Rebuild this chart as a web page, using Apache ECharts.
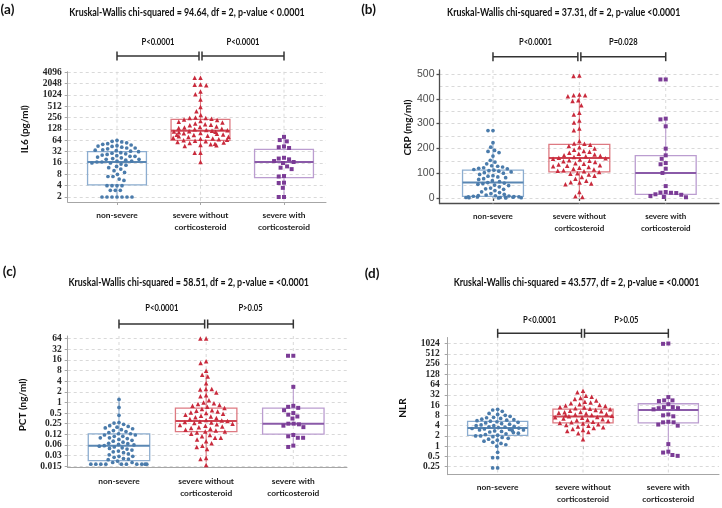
<!DOCTYPE html>
<html><head><meta charset="utf-8">
<script src="https://cdn.jsdelivr.net/npm/echarts@6/dist/echarts.min.js"></script>
<style>html,body{margin:0;padding:0;background:#fff}#c{width:722px;height:508px}</style>
</head><body><div id="c"></div>
<script>
// ---------------- DATA ----------------
const categories = ['non-severe', 'severe without\ncorticosteroid', 'severe with\ncorticosteroid'];

const titleA = 'Kruskal-Wallis chi-squared = 94.64, df = 2, p-value < 0.0001';
const titleB = 'Kruskal-Wallis chi-squared = 37.31, df = 2, p-value <0.0001';
const titleC = 'Kruskal-Wallis chi-squared = 58.51, df = 2, p-value = <0.0001';
const titleD = 'Kruskal-Wallis chi-squared = 43.577, df = 2, p-value = <0.0001';

const pLabelsA = ['P<0.0001', 'P<0.0001'];
const pLabelsB = ['P<0.0001', 'P=0.028'];
const pLabelsC = ['P<0.0001', 'P>0.05'];
const pLabelsD = ['P<0.0001', 'P>0.05'];

const il6Ticks = ['2','4','8','16','32','64','128','256','512','1024','2048','4096'];
const crpTicks = ['0','100','200','300','400','500'];
const pctTicks = ['0.015','0.03','0.06','0.12','0.25','0.5','1','2','4','8','16','32','64'];
const nlrTicks = ['0.25','0.5','1','2','4','8','16','32','64','128','256','512','1024'];

// box stats: [lower whisker, Q1, median, Q3, upper whisker]
const il6Boxes = [[2, 4.2, 17, 32, 64], [17, 64, 115, 231, 1226], [2, 6.5, 17, 37, 79]];
const crpBoxes = [[0, 6.7, 62, 112, 222], [4, 105, 161, 216, 414], [1, 15, 101, 171, 320]];
const pctBoxes = [[0.0178, 0.0226, 0.0595, 0.129, 1.21], [0.0202, 0.15, 0.30, 0.69, 6.1], [0.057, 0.127, 0.25, 0.69, 2.87]];
const nlrBoxes = [[0.7, 2.07, 3.4, 5.3, 11.7], [1.65, 4.85, 7.4, 12.2, 42], [0.52, 4.85, 11.4, 17.5, 28]];

const il6NonSevere = [64, 60, 58, 55, 52, 50, 48, 46, 45, 44, 42, 40, 40, 38, 36, 35, 34, 33, 32, 30, 29, 28, 27, 26, 25, 24, 24, 23, 22, 21, 20, 20, 19, 18, 18, 17, 17, 16, 16, 15, 14, 13, 12, 11, 10, 9, 8, 7, 7, 6, 5.5, 4, 4, 4, 4, 3, 3, 3, 2, 2, 2, 2, 2, 2, 2];
const il6SevereNoCS = [2950, 2950, 1950, 1900, 1850, 1260, 1070, 780, 490, 380, 300, 260, 250, 250, 240, 230, 220, 210, 200, 190, 180, 170, 165, 160, 150, 145, 140, 135, 130, 125, 120, 118, 115, 112, 110, 108, 105, 100, 98, 95, 92, 90, 88, 85, 82, 80, 78, 75, 72, 70, 68, 66, 64, 62, 60, 58, 56, 54, 52, 50, 48, 47, 45, 30, 30, 17];
const il6SevereCS = [79, 65, 60, 44, 42, 40, 22, 21, 20, 18, 17, 16, 13, 12, 11, 7.2, 7, 4.8, 4.7, 3.5, 2, 2];

const crpNonSevere = [272, 272, 223, 205, 192, 188, 183, 169, 152, 145, 138, 130, 128, 125, 122, 120, 118, 115, 112, 110, 108, 105, 102, 100, 95, 90, 88, 85, 82, 78, 75, 70, 66, 62, 60, 58, 55, 52, 50, 45, 40, 37, 35, 30, 25, 22, 18, 15, 12, 10, 9, 8, 7, 6, 5, 5, 4, 3, 3, 2, 2, 1, 1, 0.5, 0];
const crpSevereNoCS = [494, 492, 417, 414, 414, 410, 394, 391, 374, 344, 337, 313, 304, 280, 273, 230, 220, 219, 215, 210, 205, 200, 195, 190, 186, 182, 178, 175, 172, 170, 168, 165, 162, 160, 158, 155, 152, 150, 148, 145, 140, 138, 135, 132, 130, 128, 125, 122, 118, 115, 112, 110, 108, 105, 100, 98, 95, 90, 85, 78, 70, 64, 62, 58, 55, 24, 7, 4];
const crpSevereCS = [478, 478, 320, 317, 289, 199, 172, 158, 141, 136, 118, 101, 48, 24, 22, 21, 20, 15, 13, 8, 4, 3];

const pctNonSevere = [1.21, 0.72, 0.43, 0.27, 0.26, 0.24, 0.22, 0.21, 0.2, 0.19, 0.18, 0.17, 0.16, 0.15, 0.14, 0.13, 0.13, 0.12, 0.12, 0.11, 0.11, 0.1, 0.1, 0.095, 0.09, 0.085, 0.08, 0.075, 0.07, 0.068, 0.065, 0.063, 0.06, 0.058, 0.055, 0.052, 0.05, 0.048, 0.045, 0.042, 0.04, 0.038, 0.035, 0.033, 0.03, 0.03, 0.028, 0.026, 0.025, 0.024, 0.022, 0.02, 0.02, 0.018, 0.018, 0.018, 0.018, 0.018, 0.018, 0.018, 0.018, 0.018, 0.018];
const pctSevereNoCS = [64, 64, 14.5, 13, 7.9, 6, 5.4, 3.5, 2.4, 2.4, 2.3, 1.9, 1.6, 1.5, 1.15, 1.0, 0.95, 0.9, 0.85, 0.8, 0.75, 0.7, 0.65, 0.6, 0.58, 0.55, 0.52, 0.5, 0.48, 0.45, 0.42, 0.4, 0.38, 0.36, 0.34, 0.32, 0.31, 0.3, 0.29, 0.28, 0.27, 0.26, 0.25, 0.24, 0.23, 0.22, 0.21, 0.2, 0.19, 0.18, 0.17, 0.16, 0.15, 0.15, 0.14, 0.13, 0.12, 0.11, 0.1, 0.1, 0.09, 0.08, 0.07, 0.06, 0.055, 0.048, 0.027, 0.025, 0.017];
const pctSevereCS = [20.8, 20.8, 2.75, 0.8, 0.75, 0.7, 0.6, 0.5, 0.45, 0.4, 0.35, 0.25, 0.25, 0.24, 0.22, 0.2, 0.12, 0.11, 0.1, 0.1, 0.06, 0.055];

const nlrNonSevere = [12, 11.5, 10.5, 9.1, 8.5, 8, 7.5, 7, 6.8, 6.5, 6.2, 6, 5.8, 5.6, 5.4, 5.2, 5, 4.8, 4.6, 4.4, 4.2, 4, 4, 3.8, 3.7, 3.6, 3.5, 3.4, 3.3, 3.2, 3.1, 3, 3, 2.9, 2.8, 2.7, 2.6, 2.5, 2.4, 2.3, 2.2, 2.1, 2.0, 2.0, 1.9, 1.8, 1.7, 1.6, 1.5, 1.4, 1.3, 1.2, 1.1, 1.0, 0.66, 0.46, 0.46, 0.23, 0.23];
const nlrSevereNoCS = [42, 38, 30, 28, 26, 24, 22, 20, 19, 18, 17, 16, 15.5, 15, 14, 13.5, 13, 12.5, 12, 11.5, 11, 10.5, 10, 9.8, 9.5, 9, 8.8, 8.5, 8.2, 8, 7.8, 7.5, 7.2, 7, 6.8, 6.5, 6.2, 6, 5.8, 5.5, 5.2, 5, 4.8, 4.6, 4.4, 4.2, 4, 3.8, 3.6, 3.4, 3.2, 3, 2.8, 2.6, 2.4, 1.6];
const nlrSevereCS = [1024, 1000, 27.5, 22, 22, 21, 17, 14, 14, 13, 13, 12, 8.5, 8, 7.5, 5.2, 5, 5, 4.3, 4, 1.15, 0.69, 0.65, 0.55, 0.52];

// ---------------- STYLE / LAYOUT ----------------
const SANS = "'Lato', 'Liberation Sans', sans-serif";
const SERIF = "'Liberation Serif', serif";
const groupStyle = [
  {pt: '#4a7bab', box: '#8cadd0', med: '#5a87b3', symbol: 'circle', size: 3.7},
  {pt: '#c92a3c', box: '#de7a82', med: '#cf4553', symbol: 'triangle', size: 4.5},
  {pt: '#7b3c96', box: '#bb9dd0', med: '#8a5aa8', symbol: 'rect', size: 4}
];
const gridColor = '#d9d9d9';

const panels = [
  {tag: '(a)', title: titleA, yName: 'IL6 (pg/ml)', log: true, ticks: il6Ticks, boxes: il6Boxes,
   groups: [il6NonSevere, il6SevereNoCS, il6SevereCS], pLabels: pLabelsA,
   L: {fl: 67.7, ft: 71.7, fr: 326, fb: 202, lt: 72.3, lb: 197, dl: 75.25, dr: 325.75, ymin: 1, ymax: 12, interval: 1,
       xOffset: 5, catMargin: 7.5, labMargin: 6, nameGap: 38, namePad: [0, 0, 0, 11], brOff: 16.3, pOff: 30.3,
       titleX: 187, titleY: 12, tagX: 7.5, tagY: 10, serif: true, axisColor: '#a6a6a6', axisW: 1, catFont: 8.4}},
  {tag: '(b)', title: titleB, yName: 'CRP (mg/ml)', log: false, ticks: crpTicks, boxes: crpBoxes,
   groups: [crpNonSevere, crpSevereNoCS, crpSevereCS], pLabels: pLabelsB,
   L: {fl: 439.5, ft: 70, fr: 719, fb: 203.5, lt: 74, lb: 198, dl: 449.8, dr: 708.9, ymin: 0, ymax: 500, interval: 100,
       xOffset: 5.5, catMargin: 6.5, labMargin: 5, nameGap: 24, namePad: [0, 0, 0, 17], brOff: 17.3, pOff: 32,
       titleX: 563.7, titleY: 12, tagX: 368.5, tagY: 10, serif: false, axisColor: '#4d4d4d', axisW: 1.3, catFont: 8}},
  {tag: '(c)', title: titleC, yName: 'PCT (ng/ml)', log: true, ticks: pctTicks, boxes: pctBoxes,
   groups: [pctNonSevere, pctSevereNoCS, pctSevereCS], pLabels: pLabelsC,
   L: {fl: 67.7, ft: 336, fr: 347, fb: 467.5, lt: 338.5, lb: 466.3, dl: 75.4, dr: 336.9, ymin: -6, ymax: 6, interval: 1,
       xOffset: 1.2, catMargin: 8, labMargin: 6, nameGap: 39.5, namePad: [0, 5, 0, 0], brOff: 14.5, pOff: 30.2,
       titleX: 188.7, titleY: 282.3, tagX: 9.5, tagY: 271.5, serif: true, axisColor: '#a6a6a6', axisW: 1, catFont: 8.4}},
  {tag: '(d)', title: titleD, yName: 'NLR', log: true, ticks: nlrTicks, boxes: nlrBoxes,
   groups: [nlrNonSevere, nlrSevereNoCS, nlrSevereCS], pLabels: pLabelsD,
   L: {fl: 447.7, ft: 337.5, fr: 719, fb: 474.7, lt: 343.5, lb: 466.7, dl: 455, dr: 711, ymin: -2, ymax: 10, interval: 1,
       xOffset: 8, catMargin: 6.6, labMargin: 8, nameGap: 40, namePad: [0, 6, 0, 0], brOff: 10.2, pOff: 23.8,
       titleX: 576.5, titleY: 282.3, tagX: 372, tagY: 273.3, serif: true, axisColor: '#a6a6a6', axisW: 1, catFont: 8.4}}
];

const grids = [], xAxes = [], yAxes = [], series = [], graphics = [];

panels.forEach(function (P) {
  const L = P.L;
  const tf = P.log ? function (v) { return Math.log2(v); } : function (v) { return v; };
  const gi = grids.length;
  const lineStyle = {color: L.axisColor, width: L.axisW};

  // frame grid (axis lines)
  grids.push({left: L.fl, top: L.ft, width: L.fr - L.fl, height: L.fb - L.ft, containLabel: false, outerBoundsMode: 'none'});
  xAxes.push({gridIndex: gi, type: 'value', min: 0, max: 1, axisLine: {show: true, onZero: false, lineStyle: lineStyle},
              axisTick: {show: false}, axisLabel: {show: false}, splitLine: {show: false}});
  yAxes.push({gridIndex: gi, type: 'value', min: 0, max: 1, axisLine: {show: true, onZero: false, lineStyle: lineStyle},
              axisTick: {show: false}, axisLabel: {show: false}, splitLine: {show: false}});

  // label grid (y ticks, labels, gridlines)
  grids.push({left: L.fl, top: L.lt, width: L.fr - L.fl, height: L.lb - L.lt, containLabel: false, outerBoundsMode: 'none'});
  xAxes.push({gridIndex: gi + 1, type: 'value', show: false, min: 0, max: 1});
  const yl = {
    gridIndex: gi + 1, type: 'value', min: L.ymin, max: L.ymax, interval: L.interval,
    name: P.yName, nameLocation: 'middle', nameGap: L.nameGap, nameRotate: 90,
    nameTextStyle: {fontFamily: SANS, fontWeight: 'bold', fontSize: 10, color: '#111', padding: L.namePad},
    axisLine: {show: false},
    axisTick: {show: true, length: 3, lineStyle: lineStyle},
    axisLabel: {
      margin: L.labMargin,
      color: L.serif ? '#262626' : '#4d4d4d',
      fontFamily: L.serif ? SERIF : "'Liberation Sans', Arial, sans-serif",
      fontWeight: L.serif ? 'bold' : 'normal',
      fontSize: L.serif ? 9.5 : 10.5,
      formatter: P.log
        ? function (v) { return P.ticks[Math.round(v - L.ymin)] || ''; }
        : function (v) { return P.ticks[Math.round((v - L.ymin) / L.interval)] || ''; }
    },
    splitLine: {show: true, lineStyle: {color: gridColor, type: [3, 3], width: 1}}
  };
  if (!P.log) {
    yl.minorTick = {show: false, splitNumber: 2};
    yl.minorSplitLine = {show: true, lineStyle: {color: gridColor, type: [3, 3], width: 1}};
  }
  yAxes.push(yl);

  // data grid (categories)
  grids.push({left: L.dl, top: L.lt, width: L.dr - L.dl, height: L.lb - L.lt, containLabel: false, outerBoundsMode: 'none'});
  const bandW = (L.dr - L.dl) / 3;
  xAxes.push({
    gridIndex: gi + 2, type: 'category', data: categories, boundaryGap: true, offset: L.xOffset,
    jitter: bandW * 0.68, jitterOverlap: false, jitterMargin: 1.3,
    axisLine: {show: false},
    axisTick: {show: true, alignWithLabel: true, length: 3, lineStyle: lineStyle},
    axisLabel: {interval: 0, margin: L.catMargin, fontFamily: SANS, fontWeight: 'bold', fontSize: L.catFont,
                color: '#1a1a1a', lineHeight: 12},
    splitLine: {show: false}
  });
  yAxes.push({gridIndex: gi + 2, type: 'value', min: L.ymin, max: L.ymax, show: false});

  // boxes
  series.push({
    type: 'custom', xAxisIndex: gi + 2, yAxisIndex: gi + 2, clip: false, silent: true, z: 1,
    encode: {x: 0, y: [1, 2, 3, 4, 5]},
    data: P.boxes.map(function (b, i) { return [i].concat(b.map(tf)); }),
    renderItem: function (params, api) {
      const cat = api.value(0);
      const lo = api.coord([cat, api.value(1)]);
      const q1 = api.coord([cat, api.value(2)]);
      const md = api.coord([cat, api.value(3)]);
      const q3 = api.coord([cat, api.value(4)]);
      const hi = api.coord([cat, api.value(5)]);
      const bw = api.size([1, 0])[0] * 0.705;
      const x = md[0];
      const s = groupStyle[cat];
      const cs = params.coordSys;
      return {type: 'group', children: [
        {type: 'line', z2: 0, shape: {x1: x, y1: cs.y - (L.lt - L.ft), x2: x, y2: cs.y + cs.height + (L.fb - L.lb)},
         style: {stroke: gridColor, lineWidth: 1, lineDash: [3, 3]}},
        {type: 'line', z2: 1, shape: {x1: x, y1: hi[1], x2: x, y2: q3[1]}, style: {stroke: s.box, lineWidth: 1.1}},
        {type: 'line', z2: 1, shape: {x1: x, y1: q1[1], x2: x, y2: lo[1]}, style: {stroke: s.box, lineWidth: 1.1}},
        {type: 'rect', z2: 2, shape: {x: x - bw / 2, y: q3[1], width: bw, height: q1[1] - q3[1]},
         style: {fill: 'rgba(255,255,255,0)', stroke: s.box, lineWidth: 1.3}},
        {type: 'line', z2: 3, shape: {x1: x - bw / 2, y1: md[1], x2: x + bw / 2, y2: md[1]},
         style: {stroke: s.med, lineWidth: 2}}
      ]};
    }
  });

  // points
  P.groups.forEach(function (g, k) {
    const s = groupStyle[k];
    series.push({
      type: 'scatter', xAxisIndex: gi + 2, yAxisIndex: gi + 2, clip: false, silent: true, z: 3,
      symbol: s.symbol, symbolSize: s.size, itemStyle: {color: s.pt, opacity: 1},
      data: g.map(function (v) { return [k, tf(v)]; })
    });
  });

  // significance brackets
  series.push({
    type: 'custom', xAxisIndex: gi + 2, yAxisIndex: gi + 2, clip: false, silent: true, z: 5,
    encode: {x: [0, 1], y: 2},
    data: [[0, 1, L.ymin], [1, 2, L.ymin]],
    renderItem: function (params, api) {
      const i = params.dataIndex;
      const cs = params.coordSys;
      let x1 = api.coord([api.value(0), L.ymin])[0];
      let x2 = api.coord([api.value(1), L.ymin])[0];
      if (i === 0) x2 -= 1.5; else x1 += 1.5;
      const y = cs.y - L.brOff;
      const st = {stroke: '#333333', lineWidth: 1.5};
      return {type: 'group', children: [
        {type: 'line', shape: {x1: x1, y1: y, x2: x2, y2: y}, style: st},
        {type: 'line', shape: {x1: x1, y1: y - 4.5, x2: x1, y2: y + 4.5}, style: st},
        {type: 'line', shape: {x1: x2, y1: y - 4.5, x2: x2, y2: y + 4.5}, style: st},
        {type: 'text', x: (x1 + x2) / 2, y: cs.y - L.pOff, scaleX: 0.8,
         style: {text: P.pLabels[i], x: 0, y: 0, align: 'center', verticalAlign: 'middle',
          font: 'bold 9.5px ' + SANS, fill: '#111'}}
      ]};
    }
  });

  graphics.push({type: 'text', x: L.tagX, y: L.tagY, style: {text: P.tag, align: 'center', verticalAlign: 'middle',
    font: 'bold 13.5px ' + SANS, fill: '#111'}});
  graphics.push({type: 'text', x: L.titleX, y: L.titleY, scaleX: 0.74,
    style: {text: P.title, x: 0, y: 0, align: 'center', verticalAlign: 'middle', font: 'bold 12px ' + SANS, fill: '#111'}});
});

const chart = echarts.init(document.getElementById('c'), null, {renderer: 'canvas'});
chart.setOption({
  animation: false,
  backgroundColor: '#ffffff',
  grid: grids, xAxis: xAxes, yAxis: yAxes, series: series,
  graphic: {elements: graphics}
});
</script>
</body></html>
